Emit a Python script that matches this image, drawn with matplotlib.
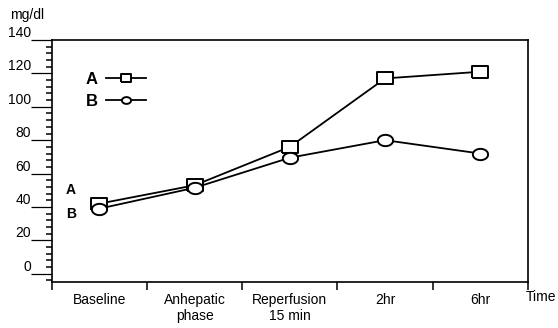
import numpy as np
import matplotlib.pyplot as plt
from matplotlib.ticker import MultipleLocator

plt.rcParams['font.family'] = ['Liberation Sans', 'DejaVu Sans']

# data (mg/dl)
categories = ['Baseline', 'Anhepatic\nphase', 'Reperfusion\n15 min', '2hr', '6hr']
series_a = [42, 53, 76, 117, 121]
series_b = [39, 51.5, 69.5, 80, 72]
y_ticks = [0, 20, 40, 60, 80, 100, 120, 140]

# slightly flattened square / ellipse markers like the original scan
box = [(-1.3, -1), (1.3, -1), (1.3, 1), (-1.3, 1), (-1.3, -1)]
t = np.linspace(0, 2 * np.pi, 40)
oval = list(zip(1.35 * np.cos(t), np.sin(t)))

fig = plt.figure(figsize=(5.58, 3.28), dpi=100)
ax = fig.add_axes([0.093, 0.14, 0.853, 0.738])

x = list(range(len(categories)))
ax.plot(x, series_a, color='black', lw=1.3, marker=box, ms=11,
        mfc='white', mec='black', mew=1.4, label='A')
ax.plot(x, series_b, color='black', lw=1.3, marker=oval, ms=11,
        mfc='white', mec='black', mew=1.4, label='B')

ax.set_xlim(-0.5, len(categories) - 0.5)
ax.set_ylim(-5, 140)

# category labels centred, tick marks on the boundaries
ax.set_xticks(x)
ax.set_xticklabels(categories, fontsize=10)
ax.set_xticks([i - 0.5 for i in range(len(categories) + 1)], minor=True)
ax.tick_params(axis='x', which='major', length=0, pad=8)
ax.tick_params(axis='x', which='minor', length=6, width=1.1, direction='out')

ax.set_yticks(y_ticks)
ax.yaxis.set_minor_locator(MultipleLocator(4))
ax.tick_params(axis='y', which='major', length=15, width=0.9, pad=0, labelsize=10)
ax.tick_params(axis='y', which='minor', length=4, width=1.1)
for lbl in ax.get_yticklabels():
    lbl.set_verticalalignment('bottom')

for s in ax.spines.values():
    s.set_linewidth(1.2)
    s.set_color('black')

ax.legend(loc='upper left', bbox_to_anchor=(0.04, 0.93), frameon=False,
          markerfirst=False, handlelength=2.4, markerscale=0.6,
          handletextpad=0.5, prop={'weight': 'bold', 'size': 12},
          labelspacing=0.4)

# series labels at the left edge
ax.text(-0.3, series_a[0] + 8, 'A', fontsize=10, fontweight='bold',
        ha='center', va='center')
ax.text(-0.3, series_b[0] - 3, 'B', fontsize=10, fontweight='bold',
        ha='center', va='center')

fig.text(0.048, 0.955, 'mg/dl', fontsize=10, ha='center', va='center')
fig.text(0.97, 0.095, 'Time', fontsize=10, ha='center', va='center')

fig.savefig('out.png', dpi=100)
